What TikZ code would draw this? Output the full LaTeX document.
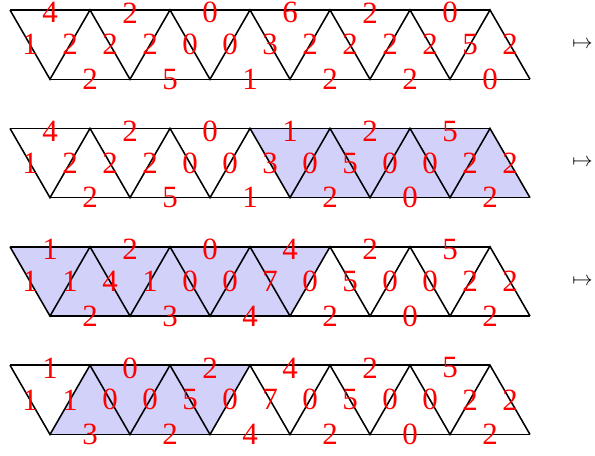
\documentclass[tikz,border=0pt]{standalone}
\usepackage{amsmath}
\usepackage{xcolor}
\usepackage{fontspec}
\usepackage{tikz}
\newfontfamily\digitfont{Liberation Serif}
\definecolor{stripfill}{rgb}{0.82,0.82,0.98}

\begin{document}
\begin{tikzpicture}[edge/.style={line width=1.1pt}, lab/.style={text=red, inner sep=0pt, font=\digitfont\fontsize{22}{22}\selectfont}, maparrow/.style={anchor=west, inner sep=0pt, font=\Large}]
    \useasboundingbox (-0.25,0.25) rectangle (14.625,-11.125);
    % vertices of the four strips
    \foreach \r in {0,...,3} {
      \foreach \k in {0,...,6} {
        \coordinate (t\r-\k) at (2*\k, -2.96*\r);
        \coordinate (b\r-\k) at (2*\k+1, -2.96*\r-1.732);
      }
    }
    % shaded parts
    \fill[stripfill] (t1-3) -- (t1-6) -- (b1-6) -- (b1-3) -- cycle;
    \fill[stripfill] (t2-0) -- (t2-4) -- (b2-3) -- (b2-0) -- cycle;
    \fill[stripfill] (b3-0) -- (t3-1) -- (t3-3) -- (b3-2) -- cycle;
    % edges
    \foreach \r in {0,...,3} {
      \draw[edge] (t\r-0) -- (t\r-6);
      \draw[edge] (b\r-0) -- (b\r-6);
      \draw[edge] (t\r-0) -- (b\r-0) -- (t\r-1) -- (b\r-1) -- (t\r-2) -- (b\r-2) -- (t\r-3) -- (b\r-3) -- (t\r-4) -- (b\r-4) -- (t\r-5) -- (b\r-5) -- (t\r-6) -- (b\r-6);
    }
    % strip 0
    \foreach \v [count=\k from 0] in {4,2,0,6,2,0} \node[lab] (top0-\k) at (2*\k+1, -0.07) {\v};
    \foreach \v [count=\k from 0] in {1,2,2,2,0,0,3,2,2,2,2,5,2} \node[lab] (mid0-\k) at (\k+0.5, -0.866) {\v};
    \foreach \v [count=\k from 0] in {2,5,1,2,2,0} \node[lab] (bot0-\k) at (2*\k+2, -1.732) {\v};
    % strip 1
    \foreach \v [count=\k from 0] in {4,2,0,1,2,5} \node[lab] (top1-\k) at (2*\k+1, -3.03) {\v};
    \foreach \v [count=\k from 0] in {1,2,2,2,0,0,3,0,5,0,0,2,2} \node[lab] (mid1-\k) at (\k+0.5, -3.826) {\v};
    \foreach \v [count=\k from 0] in {2,5,1,2,0,2} \node[lab] (bot1-\k) at (2*\k+2, -4.692) {\v};
    % strip 2
    \foreach \v [count=\k from 0] in {1,2,0,4,2,5} \node[lab] (top2-\k) at (2*\k+1, -5.99) {\v};
    \foreach \v [count=\k from 0] in {1,1,4,1,0,0,7,0,5,0,0,2,2} \node[lab] (mid2-\k) at (\k+0.5, -6.786) {\v};
    \foreach \v [count=\k from 0] in {2,3,4,2,0,2} \node[lab] (bot2-\k) at (2*\k+2, -7.652) {\v};
    % strip 3
    \foreach \v [count=\k from 0] in {1,0,2,4,2,5} \node[lab] (top3-\k) at (2*\k+1, -8.95) {\v};
    \foreach \v [count=\k from 0] in {1,1,0,0,5,0,7,0,5,0,0,2,2} \node[lab] (mid3-\k) at (\k+0.5, -9.746) {\v};
    \foreach \v [count=\k from 0] in {3,2,4,2,0,2} \node[lab] (bot3-\k) at (2*\k+2, -10.612) {\v};
    % maps-to arrows
    \foreach \r in {0,1,2} \node[maparrow] (map\r) at (14.05, -2.96*\r-0.866) {$\mapsto$};
  \end{tikzpicture}
\end{document}
